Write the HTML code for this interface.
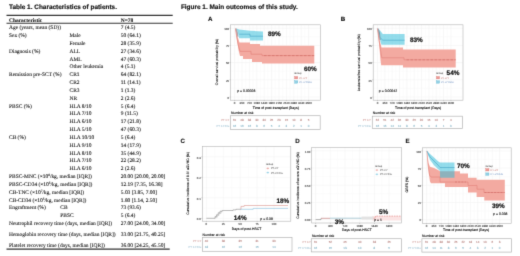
<!DOCTYPE html>
<html><head><meta charset="utf-8"><style>
html,body{margin:0;padding:0;background:#fff;}
body{width:520px;height:256px;overflow:hidden;font-family:"Liberation Sans",sans-serif;}
svg{display:block;will-change:transform;text-rendering:geometricPrecision;}
</style></head><body>
<svg width="520" height="256" viewBox="0 0 520 256">
<defs><filter id="bl" x="0" y="0" width="520" height="256" filterUnits="userSpaceOnUse" color-interpolation-filters="sRGB"><feConvolveMatrix order="3" kernelMatrix="0.01832 0.13534 0.01832 0.13534 1.00000 0.13534 0.01832 0.13534 0.01832" divisor="1.61460" edgeMode="duplicate"/></filter></defs>
<g filter="url(#bl)">
<rect width="520" height="256" fill="#fff"/>
<text x="9.0" y="8.8" font-size="6.45" font-family="Liberation Sans" font-weight="bold" text-anchor="start" fill="#111" stroke="#111" stroke-width="0.15">Table 1. Characteristics of patients.</text>
<line x1="6.5" y1="15.4" x2="172.7" y2="15.4" stroke="#333" stroke-width="1.1" />
<line x1="6.5" y1="23.3" x2="172.7" y2="23.3" stroke="#333" stroke-width="1.1" />
<line x1="6.5" y1="249.1" x2="169.7" y2="249.1" stroke="#333" stroke-width="1.1" />
<text x="9.0" y="21.65" font-size="5.45" font-family="Liberation Serif" font-weight="bold" text-anchor="start" fill="#111" stroke="#111" stroke-width="0.08">Characteristic</text>
<text x="120.8" y="21.65" font-size="5.45" font-family="Liberation Serif" font-weight="bold" text-anchor="start" fill="#111" stroke="#111" stroke-width="0.08">N=78</text>
<text x="9.0" y="29.15" font-size="5.45" font-family="Liberation Serif" font-weight="normal" text-anchor="start" fill="#111" stroke="#111" stroke-width="0.08">Age (years, mean (SD))</text>
<text x="120.8" y="29.15" font-size="5.45" font-family="Liberation Serif" font-weight="normal" text-anchor="start" fill="#111" stroke="#111" stroke-width="0.08">7 (4.5)</text>
<text x="9.0" y="36.989999999999995" font-size="5.45" font-family="Liberation Serif" font-weight="normal" text-anchor="start" fill="#111" stroke="#111" stroke-width="0.08">Sex (%)</text>
<text x="69.5" y="36.989999999999995" font-size="5.45" font-family="Liberation Serif" font-weight="normal" text-anchor="start" fill="#111" stroke="#111" stroke-width="0.08">Male</text>
<text x="120.8" y="36.989999999999995" font-size="5.45" font-family="Liberation Serif" font-weight="normal" text-anchor="start" fill="#111" stroke="#111" stroke-width="0.08">50 (64.1)</text>
<text x="69.5" y="44.83" font-size="5.45" font-family="Liberation Serif" font-weight="normal" text-anchor="start" fill="#111" stroke="#111" stroke-width="0.08">Female</text>
<text x="120.8" y="44.83" font-size="5.45" font-family="Liberation Serif" font-weight="normal" text-anchor="start" fill="#111" stroke="#111" stroke-width="0.08">28 (35.9)</text>
<text x="9.0" y="52.67" font-size="5.45" font-family="Liberation Serif" font-weight="normal" text-anchor="start" fill="#111" stroke="#111" stroke-width="0.08">Diagnosis (%)</text>
<text x="69.5" y="52.67" font-size="5.45" font-family="Liberation Serif" font-weight="normal" text-anchor="start" fill="#111" stroke="#111" stroke-width="0.08">ALL</text>
<text x="120.8" y="52.67" font-size="5.45" font-family="Liberation Serif" font-weight="normal" text-anchor="start" fill="#111" stroke="#111" stroke-width="0.08">27 (34.6)</text>
<text x="69.5" y="60.51" font-size="5.45" font-family="Liberation Serif" font-weight="normal" text-anchor="start" fill="#111" stroke="#111" stroke-width="0.08">AML</text>
<text x="120.8" y="60.51" font-size="5.45" font-family="Liberation Serif" font-weight="normal" text-anchor="start" fill="#111" stroke="#111" stroke-width="0.08">47 (60.3)</text>
<text x="69.5" y="68.35" font-size="5.45" font-family="Liberation Serif" font-weight="normal" text-anchor="start" fill="#111" stroke="#111" stroke-width="0.08">Other leukemia</text>
<text x="120.8" y="68.35" font-size="5.45" font-family="Liberation Serif" font-weight="normal" text-anchor="start" fill="#111" stroke="#111" stroke-width="0.08">4 (5.1)</text>
<text x="9.0" y="76.19" font-size="5.45" font-family="Liberation Serif" font-weight="normal" text-anchor="start" fill="#111" stroke="#111" stroke-width="0.08">Remission pre-SCT (%)</text>
<text x="69.5" y="76.19" font-size="5.45" font-family="Liberation Serif" font-weight="normal" text-anchor="start" fill="#111" stroke="#111" stroke-width="0.08">CR1</text>
<text x="120.8" y="76.19" font-size="5.45" font-family="Liberation Serif" font-weight="normal" text-anchor="start" fill="#111" stroke="#111" stroke-width="0.08">64 (82.1)</text>
<text x="69.5" y="84.03" font-size="5.45" font-family="Liberation Serif" font-weight="normal" text-anchor="start" fill="#111" stroke="#111" stroke-width="0.08">CR2</text>
<text x="120.8" y="84.03" font-size="5.45" font-family="Liberation Serif" font-weight="normal" text-anchor="start" fill="#111" stroke="#111" stroke-width="0.08">11 (14.1)</text>
<text x="69.5" y="91.87" font-size="5.45" font-family="Liberation Serif" font-weight="normal" text-anchor="start" fill="#111" stroke="#111" stroke-width="0.08">CR3</text>
<text x="120.8" y="91.87" font-size="5.45" font-family="Liberation Serif" font-weight="normal" text-anchor="start" fill="#111" stroke="#111" stroke-width="0.08">1 (1.3)</text>
<text x="69.5" y="99.71000000000001" font-size="5.45" font-family="Liberation Serif" font-weight="normal" text-anchor="start" fill="#111" stroke="#111" stroke-width="0.08">NR</text>
<text x="120.8" y="99.71000000000001" font-size="5.45" font-family="Liberation Serif" font-weight="normal" text-anchor="start" fill="#111" stroke="#111" stroke-width="0.08">2 (2.6)</text>
<text x="9.0" y="107.55000000000001" font-size="5.45" font-family="Liberation Serif" font-weight="normal" text-anchor="start" fill="#111" stroke="#111" stroke-width="0.08">PBSC (%)</text>
<text x="69.5" y="107.55000000000001" font-size="5.45" font-family="Liberation Serif" font-weight="normal" text-anchor="start" fill="#111" stroke="#111" stroke-width="0.08">HLA 8/10</text>
<text x="120.8" y="107.55000000000001" font-size="5.45" font-family="Liberation Serif" font-weight="normal" text-anchor="start" fill="#111" stroke="#111" stroke-width="0.08">5 (6.4)</text>
<text x="69.5" y="115.38999999999999" font-size="5.45" font-family="Liberation Serif" font-weight="normal" text-anchor="start" fill="#111" stroke="#111" stroke-width="0.08">HLA 7/10</text>
<text x="120.8" y="115.38999999999999" font-size="5.45" font-family="Liberation Serif" font-weight="normal" text-anchor="start" fill="#111" stroke="#111" stroke-width="0.08">9 (11.5)</text>
<text x="69.5" y="123.22999999999999" font-size="5.45" font-family="Liberation Serif" font-weight="normal" text-anchor="start" fill="#111" stroke="#111" stroke-width="0.08">HLA 6/10</text>
<text x="120.8" y="123.22999999999999" font-size="5.45" font-family="Liberation Serif" font-weight="normal" text-anchor="start" fill="#111" stroke="#111" stroke-width="0.08">17 (21.8)</text>
<text x="69.5" y="131.07" font-size="5.45" font-family="Liberation Serif" font-weight="normal" text-anchor="start" fill="#111" stroke="#111" stroke-width="0.08">HLA 5/10</text>
<text x="120.8" y="131.07" font-size="5.45" font-family="Liberation Serif" font-weight="normal" text-anchor="start" fill="#111" stroke="#111" stroke-width="0.08">47 (60.3)</text>
<text x="9.0" y="138.91" font-size="5.45" font-family="Liberation Serif" font-weight="normal" text-anchor="start" fill="#111" stroke="#111" stroke-width="0.08">CB (%)</text>
<text x="69.5" y="138.91" font-size="5.45" font-family="Liberation Serif" font-weight="normal" text-anchor="start" fill="#111" stroke="#111" stroke-width="0.08">HLA 10/10</text>
<text x="120.8" y="138.91" font-size="5.45" font-family="Liberation Serif" font-weight="normal" text-anchor="start" fill="#111" stroke="#111" stroke-width="0.08">5 (6.4)</text>
<text x="69.5" y="146.75" font-size="5.45" font-family="Liberation Serif" font-weight="normal" text-anchor="start" fill="#111" stroke="#111" stroke-width="0.08">HLA 9/10</text>
<text x="120.8" y="146.75" font-size="5.45" font-family="Liberation Serif" font-weight="normal" text-anchor="start" fill="#111" stroke="#111" stroke-width="0.08">14 (17.9)</text>
<text x="69.5" y="154.59" font-size="5.45" font-family="Liberation Serif" font-weight="normal" text-anchor="start" fill="#111" stroke="#111" stroke-width="0.08">HLA 8/10</text>
<text x="120.8" y="154.59" font-size="5.45" font-family="Liberation Serif" font-weight="normal" text-anchor="start" fill="#111" stroke="#111" stroke-width="0.08">35 (44.9)</text>
<text x="69.5" y="162.43" font-size="5.45" font-family="Liberation Serif" font-weight="normal" text-anchor="start" fill="#111" stroke="#111" stroke-width="0.08">HLA 7/10</text>
<text x="120.8" y="162.43" font-size="5.45" font-family="Liberation Serif" font-weight="normal" text-anchor="start" fill="#111" stroke="#111" stroke-width="0.08">22 (28.2)</text>
<text x="69.5" y="170.27" font-size="5.45" font-family="Liberation Serif" font-weight="normal" text-anchor="start" fill="#111" stroke="#111" stroke-width="0.08">HLA 6/10</text>
<text x="120.8" y="170.27" font-size="5.45" font-family="Liberation Serif" font-weight="normal" text-anchor="start" fill="#111" stroke="#111" stroke-width="0.08">2 (2.6)</text>
<text x="9.0" y="178.11" font-size="5.45" font-family="Liberation Serif" fill="#111" stroke="#111" stroke-width="0.08">PBSC-MNC (×10<tspan font-size="3.4" dy="-2">8</tspan><tspan dy="2">/kg, median [IQR])</tspan></text>
<text x="120.8" y="178.11" font-size="5.45" font-family="Liberation Serif" font-weight="normal" text-anchor="start" fill="#111" stroke="#111" stroke-width="0.08">20.00 [20.00, 20.00]</text>
<text x="9.0" y="185.95000000000002" font-size="5.45" font-family="Liberation Serif" fill="#111" stroke="#111" stroke-width="0.08">PBSC-CD34 (×10<tspan font-size="3.4" dy="-2">6</tspan><tspan dy="2">/kg, median [IQR])</tspan></text>
<text x="120.8" y="185.95000000000002" font-size="5.45" font-family="Liberation Serif" font-weight="normal" text-anchor="start" fill="#111" stroke="#111" stroke-width="0.08">12.19 [7.35, 16.38]</text>
<text x="9.0" y="193.79" font-size="5.45" font-family="Liberation Serif" fill="#111" stroke="#111" stroke-width="0.08">CB-TNC (×10<tspan font-size="3.4" dy="-2">7</tspan><tspan dy="2">/kg, median [IQR])</tspan></text>
<text x="120.8" y="193.79" font-size="5.45" font-family="Liberation Serif" font-weight="normal" text-anchor="start" fill="#111" stroke="#111" stroke-width="0.08">5.03 [3.85, 7.00]</text>
<text x="9.0" y="201.63" font-size="5.45" font-family="Liberation Serif" fill="#111" stroke="#111" stroke-width="0.08">CB-CD34 (×10<tspan font-size="3.4" dy="-2">5</tspan><tspan dy="2">/kg, median [IQR])</tspan></text>
<text x="120.8" y="201.63" font-size="5.45" font-family="Liberation Serif" font-weight="normal" text-anchor="start" fill="#111" stroke="#111" stroke-width="0.08">1.80 [1.14, 2.50]</text>
<text x="9.0" y="209.47" font-size="5.45" font-family="Liberation Serif" font-weight="normal" text-anchor="start" fill="#111" stroke="#111" stroke-width="0.08">Engraftment (%)</text>
<text x="60.3" y="209.47" font-size="5.45" font-family="Liberation Serif" font-weight="normal" text-anchor="start" fill="#111" stroke="#111" stroke-width="0.08">CB</text>
<text x="120.8" y="209.47" font-size="5.45" font-family="Liberation Serif" font-weight="normal" text-anchor="start" fill="#111" stroke="#111" stroke-width="0.08">73 (93.6)</text>
<text x="60.3" y="217.31" font-size="5.45" font-family="Liberation Serif" font-weight="normal" text-anchor="start" fill="#111" stroke="#111" stroke-width="0.08">PBSC</text>
<text x="120.8" y="217.31" font-size="5.45" font-family="Liberation Serif" font-weight="normal" text-anchor="start" fill="#111" stroke="#111" stroke-width="0.08">5 (6.4)</text>
<text x="9.0" y="225.15" font-size="5.45" font-family="Liberation Serif" font-weight="normal" text-anchor="start" fill="#111" stroke="#111" stroke-width="0.08">Neutrophil recovery time (days, median [IQR])</text>
<text x="120.8" y="225.15" font-size="5.45" font-family="Liberation Serif" font-weight="normal" text-anchor="start" fill="#111" stroke="#111" stroke-width="0.08">27.00 [24.00, 34.00]</text>
<text x="9.0" y="236.25" font-size="5.45" font-family="Liberation Serif" font-weight="normal" text-anchor="start" fill="#111" stroke="#111" stroke-width="0.08">Hemoglobin recovery time (days, median [IQR])</text>
<text x="120.8" y="236.25" font-size="5.45" font-family="Liberation Serif" font-weight="normal" text-anchor="start" fill="#111" stroke="#111" stroke-width="0.08">33.00 [21.75, 40.25]</text>
<text x="9.0" y="247.05" font-size="5.45" font-family="Liberation Serif" font-weight="normal" text-anchor="start" fill="#111" stroke="#111" stroke-width="0.08">Platelet recovery time (days, median [IQR])</text>
<text x="120.8" y="247.05" font-size="5.45" font-family="Liberation Serif" font-weight="normal" text-anchor="start" fill="#111" stroke="#111" stroke-width="0.08">36.00 [24.25, 45.50]</text>
<text x="180.9" y="8.6" font-size="6.45" font-family="Liberation Sans" font-weight="bold" text-anchor="start" fill="#111" stroke="#111" stroke-width="0.15">Figure 1. Main outcomes of this study.</text>
<text x="208" y="20.5" font-size="6.2" font-family="Liberation Sans" font-weight="bold" text-anchor="start" fill="#111" stroke="#111" stroke-width="0.1">A</text>
<rect x="230.5" y="24.8" width="90.10000000000002" height="75.4" fill="#fff" stroke="none" stroke-width="0.5" />
<line x1="230.5" y1="88.4" x2="320.6" y2="88.4" stroke="#f8f8f8" stroke-width="0.4" />
<line x1="230.5" y1="71.2" x2="320.6" y2="71.2" stroke="#f8f8f8" stroke-width="0.4" />
<line x1="230.5" y1="54.0" x2="320.6" y2="54.0" stroke="#f8f8f8" stroke-width="0.4" />
<line x1="230.5" y1="36.8" x2="320.6" y2="36.8" stroke="#f8f8f8" stroke-width="0.4" />
<line x1="238.3" y1="24.8" x2="238.3" y2="100.2" stroke="#f8f8f8" stroke-width="0.4" />
<line x1="245.7" y1="24.8" x2="245.7" y2="100.2" stroke="#f8f8f8" stroke-width="0.4" />
<line x1="253.10000000000002" y1="24.8" x2="253.10000000000002" y2="100.2" stroke="#f8f8f8" stroke-width="0.4" />
<line x1="260.5" y1="24.8" x2="260.5" y2="100.2" stroke="#f8f8f8" stroke-width="0.4" />
<line x1="267.9" y1="24.8" x2="267.9" y2="100.2" stroke="#f8f8f8" stroke-width="0.4" />
<line x1="275.3" y1="24.8" x2="275.3" y2="100.2" stroke="#f8f8f8" stroke-width="0.4" />
<line x1="282.7" y1="24.8" x2="282.7" y2="100.2" stroke="#f8f8f8" stroke-width="0.4" />
<line x1="290.1" y1="24.8" x2="290.1" y2="100.2" stroke="#f8f8f8" stroke-width="0.4" />
<line x1="297.5" y1="24.8" x2="297.5" y2="100.2" stroke="#f8f8f8" stroke-width="0.4" />
<line x1="304.9" y1="24.8" x2="304.9" y2="100.2" stroke="#f8f8f8" stroke-width="0.4" />
<line x1="230.5" y1="97.0" x2="320.6" y2="97.0" stroke="#f0f0f0" stroke-width="0.5" />
<line x1="230.5" y1="79.8" x2="320.6" y2="79.8" stroke="#f0f0f0" stroke-width="0.5" />
<line x1="230.5" y1="62.6" x2="320.6" y2="62.6" stroke="#f0f0f0" stroke-width="0.5" />
<line x1="230.5" y1="45.4" x2="320.6" y2="45.4" stroke="#f0f0f0" stroke-width="0.5" />
<line x1="230.5" y1="28.2" x2="320.6" y2="28.2" stroke="#f0f0f0" stroke-width="0.5" />
<line x1="234.6" y1="24.8" x2="234.6" y2="100.2" stroke="#f0f0f0" stroke-width="0.5" />
<line x1="242.0" y1="24.8" x2="242.0" y2="100.2" stroke="#f0f0f0" stroke-width="0.5" />
<line x1="249.4" y1="24.8" x2="249.4" y2="100.2" stroke="#f0f0f0" stroke-width="0.5" />
<line x1="256.8" y1="24.8" x2="256.8" y2="100.2" stroke="#f0f0f0" stroke-width="0.5" />
<line x1="264.2" y1="24.8" x2="264.2" y2="100.2" stroke="#f0f0f0" stroke-width="0.5" />
<line x1="271.6" y1="24.8" x2="271.6" y2="100.2" stroke="#f0f0f0" stroke-width="0.5" />
<line x1="279.0" y1="24.8" x2="279.0" y2="100.2" stroke="#f0f0f0" stroke-width="0.5" />
<line x1="286.4" y1="24.8" x2="286.4" y2="100.2" stroke="#f0f0f0" stroke-width="0.5" />
<line x1="293.8" y1="24.8" x2="293.8" y2="100.2" stroke="#f0f0f0" stroke-width="0.5" />
<line x1="301.2" y1="24.8" x2="301.2" y2="100.2" stroke="#f0f0f0" stroke-width="0.5" />
<line x1="308.6" y1="24.8" x2="308.6" y2="100.2" stroke="#f0f0f0" stroke-width="0.5" />
<rect x="230.5" y="24.8" width="90.10000000000002" height="75.4" fill="none" stroke="#b4b4b4" stroke-width="0.6" />
<text x="229.1" y="98.7" font-size="2.9" font-family="Liberation Sans" font-weight="normal" text-anchor="end" fill="#3a3a3a" stroke="#3a3a3a" stroke-width="0.08">0</text>
<line x1="229.4" y1="97.0" x2="230.5" y2="97.0" stroke="#999" stroke-width="0.4" />
<text x="229.1" y="81.5" font-size="2.9" font-family="Liberation Sans" font-weight="normal" text-anchor="end" fill="#3a3a3a" stroke="#3a3a3a" stroke-width="0.08">25</text>
<line x1="229.4" y1="79.8" x2="230.5" y2="79.8" stroke="#999" stroke-width="0.4" />
<text x="229.1" y="64.3" font-size="2.9" font-family="Liberation Sans" font-weight="normal" text-anchor="end" fill="#3a3a3a" stroke="#3a3a3a" stroke-width="0.08">50</text>
<line x1="229.4" y1="62.6" x2="230.5" y2="62.6" stroke="#999" stroke-width="0.4" />
<text x="229.1" y="47.1" font-size="2.9" font-family="Liberation Sans" font-weight="normal" text-anchor="end" fill="#3a3a3a" stroke="#3a3a3a" stroke-width="0.08">75</text>
<line x1="229.4" y1="45.4" x2="230.5" y2="45.4" stroke="#999" stroke-width="0.4" />
<text x="229.1" y="29.9" font-size="2.9" font-family="Liberation Sans" font-weight="normal" text-anchor="end" fill="#3a3a3a" stroke="#3a3a3a" stroke-width="0.08">100</text>
<line x1="229.4" y1="28.2" x2="230.5" y2="28.2" stroke="#999" stroke-width="0.4" />
<text x="234.6" y="103.8" font-size="2.9" font-family="Liberation Sans" font-weight="normal" text-anchor="middle" fill="#3a3a3a" stroke="#3a3a3a" stroke-width="0.08">0</text>
<line x1="234.6" y1="100.2" x2="234.6" y2="101.2" stroke="#999" stroke-width="0.4" />
<text x="242.0" y="103.8" font-size="2.9" font-family="Liberation Sans" font-weight="normal" text-anchor="middle" fill="#3a3a3a" stroke="#3a3a3a" stroke-width="0.08">360</text>
<line x1="242.0" y1="100.2" x2="242.0" y2="101.2" stroke="#999" stroke-width="0.4" />
<text x="249.4" y="103.8" font-size="2.9" font-family="Liberation Sans" font-weight="normal" text-anchor="middle" fill="#3a3a3a" stroke="#3a3a3a" stroke-width="0.08">720</text>
<line x1="249.4" y1="100.2" x2="249.4" y2="101.2" stroke="#999" stroke-width="0.4" />
<text x="256.8" y="103.8" font-size="2.9" font-family="Liberation Sans" font-weight="normal" text-anchor="middle" fill="#3a3a3a" stroke="#3a3a3a" stroke-width="0.08">1080</text>
<line x1="256.8" y1="100.2" x2="256.8" y2="101.2" stroke="#999" stroke-width="0.4" />
<text x="264.2" y="103.8" font-size="2.9" font-family="Liberation Sans" font-weight="normal" text-anchor="middle" fill="#3a3a3a" stroke="#3a3a3a" stroke-width="0.08">1440</text>
<line x1="264.2" y1="100.2" x2="264.2" y2="101.2" stroke="#999" stroke-width="0.4" />
<text x="271.6" y="103.8" font-size="2.9" font-family="Liberation Sans" font-weight="normal" text-anchor="middle" fill="#3a3a3a" stroke="#3a3a3a" stroke-width="0.08">1800</text>
<line x1="271.6" y1="100.2" x2="271.6" y2="101.2" stroke="#999" stroke-width="0.4" />
<text x="279.0" y="103.8" font-size="2.9" font-family="Liberation Sans" font-weight="normal" text-anchor="middle" fill="#3a3a3a" stroke="#3a3a3a" stroke-width="0.08">2160</text>
<line x1="279.0" y1="100.2" x2="279.0" y2="101.2" stroke="#999" stroke-width="0.4" />
<text x="286.4" y="103.8" font-size="2.9" font-family="Liberation Sans" font-weight="normal" text-anchor="middle" fill="#3a3a3a" stroke="#3a3a3a" stroke-width="0.08">2520</text>
<line x1="286.4" y1="100.2" x2="286.4" y2="101.2" stroke="#999" stroke-width="0.4" />
<text x="293.8" y="103.8" font-size="2.9" font-family="Liberation Sans" font-weight="normal" text-anchor="middle" fill="#3a3a3a" stroke="#3a3a3a" stroke-width="0.08">2880</text>
<line x1="293.8" y1="100.2" x2="293.8" y2="101.2" stroke="#999" stroke-width="0.4" />
<text x="301.2" y="103.8" font-size="2.9" font-family="Liberation Sans" font-weight="normal" text-anchor="middle" fill="#3a3a3a" stroke="#3a3a3a" stroke-width="0.08">3240</text>
<line x1="301.2" y1="100.2" x2="301.2" y2="101.2" stroke="#999" stroke-width="0.4" />
<text x="308.6" y="103.8" font-size="2.9" font-family="Liberation Sans" font-weight="normal" text-anchor="middle" fill="#3a3a3a" stroke="#3a3a3a" stroke-width="0.08">3600</text>
<line x1="308.6" y1="100.2" x2="308.6" y2="101.2" stroke="#999" stroke-width="0.4" />
<text x="275.8" y="108.9" font-size="3.45" font-family="Liberation Sans" font-weight="normal" text-anchor="middle" fill="#111" stroke="#111" stroke-width="0.12">Time of post-transplant (Days)</text>
<text x="0" y="0" font-size="3.45" font-family="Liberation Sans" text-anchor="middle" fill="#111" stroke="#111" stroke-width="0.12" transform="translate(218.2,62) rotate(-90)">Overall survival probability (%)</text>
<polygon points="235.40,28.60 236.50,33.00 238.00,38.00 239.50,42.50 250.00,42.50 250.00,44.00 260.00,44.00 260.00,45.80 314.30,45.80 314.30,63.50 262.00,63.50 262.00,62.00 252.00,62.00 252.00,59.00 243.00,59.00 243.00,56.00 240.00,56.00 238.50,50.00 237.00,40.00 235.40,28.60" fill="#f3aaa1" />
<polygon points="236.50,28.60 239.20,29.60 250.00,30.80 263.00,31.40 263.00,40.50 250.00,40.50 250.00,38.20 239.20,38.20 238.60,36.00 237.80,32.00" fill="rgba(40,185,215,0.5)" />
<polygon points="235.30,28.20 236.60,28.40 238.00,33.00 238.30,37.00 237.40,36.50 236.20,32.00" fill="rgba(100,100,115,0.55)" />
<polyline points="235.40,28.60 236.50,36.00 238.00,44.00 240.00,51.30 251.00,51.30 251.00,54.20 262.00,54.20 262.00,55.60 314.30,55.60" fill="none" stroke="#e07c75" stroke-width="0.6" />
<polyline points="239.20,34.20 250.00,34.20 250.00,36.20 263.00,36.20" fill="none" stroke="#3f9fc2" stroke-width="0.55" />
<polyline points="264.00,55.60 314.00,55.60" fill="none" stroke="#cd6a64" stroke-width="0.6" stroke-dasharray="2.5,1.5"/>
<text x="268" y="36.4" font-size="6.4" font-family="Liberation Sans" font-weight="bold" text-anchor="start" fill="#111" stroke="#111" stroke-width="0.18">89%</text>
<text x="304" y="70.5" font-size="6.4" font-family="Liberation Sans" font-weight="bold" text-anchor="start" fill="#111" stroke="#111" stroke-width="0.18">60%</text>
<text x="294.3" y="74.4" font-size="2.6" font-family="Liberation Sans" font-weight="normal" text-anchor="start" fill="#222" >Group</text>
<rect x="294.6" y="76.5" width="3.2" height="2.4" fill="#eb9a96" stroke="#d9706b" stroke-width="0.3" />
<rect x="294.6" y="80.8" width="3.2" height="2.4" fill="#92cfe3" stroke="#4aaed0" stroke-width="0.3" />
<text x="299.3" y="78.7" font-size="2.7" font-family="Liberation Sans" font-weight="normal" text-anchor="start" fill="#c06a66" >PT-CY</text>
<text x="299.3" y="83.0" font-size="2.7" font-family="Liberation Sans" font-weight="normal" text-anchor="start" fill="#6a8fc0" >PT-CY/Flu</text>
<text x="237.2" y="92.0" font-size="3.45" font-family="Liberation Sans" font-weight="normal" text-anchor="start" fill="#111" stroke="#111" stroke-width="0.12">p = 0.00028</text>
<text x="231" y="113.9" font-size="3.45" font-family="Liberation Sans" font-weight="normal" text-anchor="start" fill="#222" stroke="#222" stroke-width="0.12">Number at risk</text>
<rect x="230.6" y="115.7" width="89.6" height="13.899999999999991" fill="#fff" stroke="#b4b4b4" stroke-width="0.7" />
<text x="229.4" y="120.8" font-size="2.8" font-family="Liberation Sans" font-weight="normal" text-anchor="end" fill="#c98a86" >PT-CY</text>
<text x="229.4" y="127.0" font-size="2.8" font-family="Liberation Sans" font-weight="normal" text-anchor="end" fill="#8fb8cc" >PT-CY/Flu</text>
<text x="234.6" y="120.85" font-size="3.0" font-family="Liberation Sans" font-weight="normal" text-anchor="middle" fill="#b98580" stroke="#b98580" stroke-width="0.08">61</text>
<text x="234.6" y="127.05" font-size="3.0" font-family="Liberation Sans" font-weight="normal" text-anchor="middle" fill="#86b5c8" stroke="#86b5c8" stroke-width="0.08">16</text>
<text x="242.0" y="120.85" font-size="3.0" font-family="Liberation Sans" font-weight="normal" text-anchor="middle" fill="#b98580" stroke="#b98580" stroke-width="0.08">48</text>
<text x="242.0" y="127.05" font-size="3.0" font-family="Liberation Sans" font-weight="normal" text-anchor="middle" fill="#86b5c8" stroke="#86b5c8" stroke-width="0.08">16</text>
<text x="249.4" y="120.85" font-size="3.0" font-family="Liberation Sans" font-weight="normal" text-anchor="middle" fill="#b98580" stroke="#b98580" stroke-width="0.08">38</text>
<text x="249.4" y="127.05" font-size="3.0" font-family="Liberation Sans" font-weight="normal" text-anchor="middle" fill="#86b5c8" stroke="#86b5c8" stroke-width="0.08">16</text>
<text x="256.8" y="120.85" font-size="3.0" font-family="Liberation Sans" font-weight="normal" text-anchor="middle" fill="#b98580" stroke="#b98580" stroke-width="0.08">30</text>
<text x="256.8" y="127.05" font-size="3.0" font-family="Liberation Sans" font-weight="normal" text-anchor="middle" fill="#86b5c8" stroke="#86b5c8" stroke-width="0.08">9</text>
<text x="264.2" y="120.85" font-size="3.0" font-family="Liberation Sans" font-weight="normal" text-anchor="middle" fill="#b98580" stroke="#b98580" stroke-width="0.08">30</text>
<text x="264.2" y="127.05" font-size="3.0" font-family="Liberation Sans" font-weight="normal" text-anchor="middle" fill="#86b5c8" stroke="#86b5c8" stroke-width="0.08">6</text>
<text x="271.6" y="120.85" font-size="3.0" font-family="Liberation Sans" font-weight="normal" text-anchor="middle" fill="#b98580" stroke="#b98580" stroke-width="0.08">25</text>
<text x="271.6" y="127.05" font-size="3.0" font-family="Liberation Sans" font-weight="normal" text-anchor="middle" fill="#86b5c8" stroke="#86b5c8" stroke-width="0.08">5</text>
<text x="279.0" y="120.85" font-size="3.0" font-family="Liberation Sans" font-weight="normal" text-anchor="middle" fill="#b98580" stroke="#b98580" stroke-width="0.08">20</text>
<text x="279.0" y="127.05" font-size="3.0" font-family="Liberation Sans" font-weight="normal" text-anchor="middle" fill="#86b5c8" stroke="#86b5c8" stroke-width="0.08">4</text>
<text x="286.4" y="120.85" font-size="3.0" font-family="Liberation Sans" font-weight="normal" text-anchor="middle" fill="#b98580" stroke="#b98580" stroke-width="0.08">15</text>
<text x="286.4" y="127.05" font-size="3.0" font-family="Liberation Sans" font-weight="normal" text-anchor="middle" fill="#86b5c8" stroke="#86b5c8" stroke-width="0.08">3</text>
<text x="293.8" y="120.85" font-size="3.0" font-family="Liberation Sans" font-weight="normal" text-anchor="middle" fill="#b98580" stroke="#b98580" stroke-width="0.08">10</text>
<text x="293.8" y="127.05" font-size="3.0" font-family="Liberation Sans" font-weight="normal" text-anchor="middle" fill="#86b5c8" stroke="#86b5c8" stroke-width="0.08">2</text>
<text x="301.2" y="120.85" font-size="3.0" font-family="Liberation Sans" font-weight="normal" text-anchor="middle" fill="#b98580" stroke="#b98580" stroke-width="0.08">8</text>
<text x="301.2" y="127.05" font-size="3.0" font-family="Liberation Sans" font-weight="normal" text-anchor="middle" fill="#86b5c8" stroke="#86b5c8" stroke-width="0.08">1</text>
<text x="308.6" y="120.85" font-size="3.0" font-family="Liberation Sans" font-weight="normal" text-anchor="middle" fill="#b98580" stroke="#b98580" stroke-width="0.08">5</text>
<text x="308.6" y="127.05" font-size="3.0" font-family="Liberation Sans" font-weight="normal" text-anchor="middle" fill="#86b5c8" stroke="#86b5c8" stroke-width="0.08">0</text>
<text x="340.7" y="20.5" font-size="6.2" font-family="Liberation Sans" font-weight="bold" text-anchor="start" fill="#111" stroke="#111" stroke-width="0.1">B</text>
<rect x="373.2" y="24.8" width="89.80000000000001" height="75.4" fill="#fff" stroke="none" stroke-width="0.5" />
<line x1="373.2" y1="88.4" x2="463" y2="88.4" stroke="#f8f8f8" stroke-width="0.4" />
<line x1="373.2" y1="71.2" x2="463" y2="71.2" stroke="#f8f8f8" stroke-width="0.4" />
<line x1="373.2" y1="54.0" x2="463" y2="54.0" stroke="#f8f8f8" stroke-width="0.4" />
<line x1="373.2" y1="36.8" x2="463" y2="36.8" stroke="#f8f8f8" stroke-width="0.4" />
<line x1="381.16999999999996" y1="24.8" x2="381.16999999999996" y2="100.2" stroke="#f8f8f8" stroke-width="0.4" />
<line x1="388.51" y1="24.8" x2="388.51" y2="100.2" stroke="#f8f8f8" stroke-width="0.4" />
<line x1="395.85" y1="24.8" x2="395.85" y2="100.2" stroke="#f8f8f8" stroke-width="0.4" />
<line x1="403.19" y1="24.8" x2="403.19" y2="100.2" stroke="#f8f8f8" stroke-width="0.4" />
<line x1="410.53" y1="24.8" x2="410.53" y2="100.2" stroke="#f8f8f8" stroke-width="0.4" />
<line x1="417.87" y1="24.8" x2="417.87" y2="100.2" stroke="#f8f8f8" stroke-width="0.4" />
<line x1="425.21000000000004" y1="24.8" x2="425.21000000000004" y2="100.2" stroke="#f8f8f8" stroke-width="0.4" />
<line x1="432.55" y1="24.8" x2="432.55" y2="100.2" stroke="#f8f8f8" stroke-width="0.4" />
<line x1="439.89" y1="24.8" x2="439.89" y2="100.2" stroke="#f8f8f8" stroke-width="0.4" />
<line x1="447.23" y1="24.8" x2="447.23" y2="100.2" stroke="#f8f8f8" stroke-width="0.4" />
<line x1="373.2" y1="97.0" x2="463" y2="97.0" stroke="#f0f0f0" stroke-width="0.5" />
<line x1="373.2" y1="79.8" x2="463" y2="79.8" stroke="#f0f0f0" stroke-width="0.5" />
<line x1="373.2" y1="62.6" x2="463" y2="62.6" stroke="#f0f0f0" stroke-width="0.5" />
<line x1="373.2" y1="45.4" x2="463" y2="45.4" stroke="#f0f0f0" stroke-width="0.5" />
<line x1="373.2" y1="28.2" x2="463" y2="28.2" stroke="#f0f0f0" stroke-width="0.5" />
<line x1="377.5" y1="24.8" x2="377.5" y2="100.2" stroke="#f0f0f0" stroke-width="0.5" />
<line x1="384.84" y1="24.8" x2="384.84" y2="100.2" stroke="#f0f0f0" stroke-width="0.5" />
<line x1="392.18" y1="24.8" x2="392.18" y2="100.2" stroke="#f0f0f0" stroke-width="0.5" />
<line x1="399.52" y1="24.8" x2="399.52" y2="100.2" stroke="#f0f0f0" stroke-width="0.5" />
<line x1="406.86" y1="24.8" x2="406.86" y2="100.2" stroke="#f0f0f0" stroke-width="0.5" />
<line x1="414.2" y1="24.8" x2="414.2" y2="100.2" stroke="#f0f0f0" stroke-width="0.5" />
<line x1="421.54" y1="24.8" x2="421.54" y2="100.2" stroke="#f0f0f0" stroke-width="0.5" />
<line x1="428.88" y1="24.8" x2="428.88" y2="100.2" stroke="#f0f0f0" stroke-width="0.5" />
<line x1="436.22" y1="24.8" x2="436.22" y2="100.2" stroke="#f0f0f0" stroke-width="0.5" />
<line x1="443.56" y1="24.8" x2="443.56" y2="100.2" stroke="#f0f0f0" stroke-width="0.5" />
<line x1="450.9" y1="24.8" x2="450.9" y2="100.2" stroke="#f0f0f0" stroke-width="0.5" />
<rect x="373.2" y="24.8" width="89.80000000000001" height="75.4" fill="none" stroke="#b4b4b4" stroke-width="0.6" />
<text x="371.8" y="98.7" font-size="2.9" font-family="Liberation Sans" font-weight="normal" text-anchor="end" fill="#3a3a3a" stroke="#3a3a3a" stroke-width="0.08">0</text>
<line x1="372.09999999999997" y1="97.0" x2="373.2" y2="97.0" stroke="#999" stroke-width="0.4" />
<text x="371.8" y="81.5" font-size="2.9" font-family="Liberation Sans" font-weight="normal" text-anchor="end" fill="#3a3a3a" stroke="#3a3a3a" stroke-width="0.08">25</text>
<line x1="372.09999999999997" y1="79.8" x2="373.2" y2="79.8" stroke="#999" stroke-width="0.4" />
<text x="371.8" y="64.3" font-size="2.9" font-family="Liberation Sans" font-weight="normal" text-anchor="end" fill="#3a3a3a" stroke="#3a3a3a" stroke-width="0.08">50</text>
<line x1="372.09999999999997" y1="62.6" x2="373.2" y2="62.6" stroke="#999" stroke-width="0.4" />
<text x="371.8" y="47.1" font-size="2.9" font-family="Liberation Sans" font-weight="normal" text-anchor="end" fill="#3a3a3a" stroke="#3a3a3a" stroke-width="0.08">75</text>
<line x1="372.09999999999997" y1="45.4" x2="373.2" y2="45.4" stroke="#999" stroke-width="0.4" />
<text x="371.8" y="29.9" font-size="2.9" font-family="Liberation Sans" font-weight="normal" text-anchor="end" fill="#3a3a3a" stroke="#3a3a3a" stroke-width="0.08">100</text>
<line x1="372.09999999999997" y1="28.2" x2="373.2" y2="28.2" stroke="#999" stroke-width="0.4" />
<text x="377.5" y="103.8" font-size="2.9" font-family="Liberation Sans" font-weight="normal" text-anchor="middle" fill="#3a3a3a" stroke="#3a3a3a" stroke-width="0.08">0</text>
<line x1="377.5" y1="100.2" x2="377.5" y2="101.2" stroke="#999" stroke-width="0.4" />
<text x="384.84" y="103.8" font-size="2.9" font-family="Liberation Sans" font-weight="normal" text-anchor="middle" fill="#3a3a3a" stroke="#3a3a3a" stroke-width="0.08">360</text>
<line x1="384.84" y1="100.2" x2="384.84" y2="101.2" stroke="#999" stroke-width="0.4" />
<text x="392.18" y="103.8" font-size="2.9" font-family="Liberation Sans" font-weight="normal" text-anchor="middle" fill="#3a3a3a" stroke="#3a3a3a" stroke-width="0.08">720</text>
<line x1="392.18" y1="100.2" x2="392.18" y2="101.2" stroke="#999" stroke-width="0.4" />
<text x="399.52" y="103.8" font-size="2.9" font-family="Liberation Sans" font-weight="normal" text-anchor="middle" fill="#3a3a3a" stroke="#3a3a3a" stroke-width="0.08">1080</text>
<line x1="399.52" y1="100.2" x2="399.52" y2="101.2" stroke="#999" stroke-width="0.4" />
<text x="406.86" y="103.8" font-size="2.9" font-family="Liberation Sans" font-weight="normal" text-anchor="middle" fill="#3a3a3a" stroke="#3a3a3a" stroke-width="0.08">1440</text>
<line x1="406.86" y1="100.2" x2="406.86" y2="101.2" stroke="#999" stroke-width="0.4" />
<text x="414.2" y="103.8" font-size="2.9" font-family="Liberation Sans" font-weight="normal" text-anchor="middle" fill="#3a3a3a" stroke="#3a3a3a" stroke-width="0.08">1800</text>
<line x1="414.2" y1="100.2" x2="414.2" y2="101.2" stroke="#999" stroke-width="0.4" />
<text x="421.54" y="103.8" font-size="2.9" font-family="Liberation Sans" font-weight="normal" text-anchor="middle" fill="#3a3a3a" stroke="#3a3a3a" stroke-width="0.08">2160</text>
<line x1="421.54" y1="100.2" x2="421.54" y2="101.2" stroke="#999" stroke-width="0.4" />
<text x="428.88" y="103.8" font-size="2.9" font-family="Liberation Sans" font-weight="normal" text-anchor="middle" fill="#3a3a3a" stroke="#3a3a3a" stroke-width="0.08">2520</text>
<line x1="428.88" y1="100.2" x2="428.88" y2="101.2" stroke="#999" stroke-width="0.4" />
<text x="436.22" y="103.8" font-size="2.9" font-family="Liberation Sans" font-weight="normal" text-anchor="middle" fill="#3a3a3a" stroke="#3a3a3a" stroke-width="0.08">2880</text>
<line x1="436.22" y1="100.2" x2="436.22" y2="101.2" stroke="#999" stroke-width="0.4" />
<text x="443.56" y="103.8" font-size="2.9" font-family="Liberation Sans" font-weight="normal" text-anchor="middle" fill="#3a3a3a" stroke="#3a3a3a" stroke-width="0.08">3240</text>
<line x1="443.56" y1="100.2" x2="443.56" y2="101.2" stroke="#999" stroke-width="0.4" />
<text x="450.9" y="103.8" font-size="2.9" font-family="Liberation Sans" font-weight="normal" text-anchor="middle" fill="#3a3a3a" stroke="#3a3a3a" stroke-width="0.08">3600</text>
<line x1="450.9" y1="100.2" x2="450.9" y2="101.2" stroke="#999" stroke-width="0.4" />
<text x="418.1" y="108.7" font-size="3.45" font-family="Liberation Sans" font-weight="normal" text-anchor="middle" fill="#111" stroke="#111" stroke-width="0.12">Time of post-transplant (Days)</text>
<text x="0" y="0" font-size="3.45" font-family="Liberation Sans" text-anchor="middle" fill="#111" stroke="#111" stroke-width="0.12" transform="translate(359.59999999999997,62.7) rotate(-90)">Leukemia free survival probability (%)</text>
<polygon points="377.40,28.50 378.50,34.00 380.00,42.00 381.50,47.50 403.00,47.50 403.00,49.60 455.70,49.60 455.70,67.40 403.00,67.40 403.00,65.30 381.20,65.30 380.50,60.00 379.20,45.00" fill="#f3aaa1" />
<polygon points="378.20,28.60 380.00,30.50 382.80,33.90 404.60,33.90 404.60,44.80 381.50,44.80 380.50,42.00 379.50,36.00" fill="rgba(40,185,215,0.5)" />
<polygon points="377.30,28.20 378.60,28.40 380.00,33.00 380.60,40.00 379.60,40.00 378.20,33.00" fill="rgba(100,100,115,0.55)" />
<polyline points="377.40,28.50 379.00,40.00 380.50,50.00 381.80,57.80 404.00,57.80 404.00,59.80 455.70,59.80" fill="none" stroke="#e07c75" stroke-width="0.55" />
<polyline points="380.50,38.00 382.80,40.20 404.60,40.20" fill="none" stroke="#3f9fc2" stroke-width="0.55" />
<polyline points="406.50,59.80 455.50,59.80" fill="none" stroke="#cd6a64" stroke-width="0.6" stroke-dasharray="2.5,1.5"/>
<text x="410" y="42" font-size="6.4" font-family="Liberation Sans" font-weight="bold" text-anchor="start" fill="#111" stroke="#111" stroke-width="0.18">83%</text>
<text x="446.6" y="74.8" font-size="6.4" font-family="Liberation Sans" font-weight="bold" text-anchor="start" fill="#111" stroke="#111" stroke-width="0.18">54%</text>
<text x="436.1" y="74.4" font-size="2.6" font-family="Liberation Sans" font-weight="normal" text-anchor="start" fill="#222" >Group</text>
<rect x="436.40000000000003" y="76.5" width="3.2" height="2.4" fill="#eb9a96" stroke="#d9706b" stroke-width="0.3" />
<rect x="436.40000000000003" y="80.8" width="3.2" height="2.4" fill="#92cfe3" stroke="#4aaed0" stroke-width="0.3" />
<text x="441.1" y="78.7" font-size="2.7" font-family="Liberation Sans" font-weight="normal" text-anchor="start" fill="#c06a66" >PT-CY</text>
<text x="441.1" y="83.0" font-size="2.7" font-family="Liberation Sans" font-weight="normal" text-anchor="start" fill="#6a8fc0" >PT-CY/Flu</text>
<text x="378.8" y="91.8" font-size="3.45" font-family="Liberation Sans" font-weight="normal" text-anchor="start" fill="#111" stroke="#111" stroke-width="0.12">p = 0.00042</text>
<text x="372.8" y="114.0" font-size="3.45" font-family="Liberation Sans" font-weight="normal" text-anchor="start" fill="#222" stroke="#222" stroke-width="0.12">Number at risk</text>
<rect x="372.3" y="116.2" width="90.19999999999999" height="12.399999999999991" fill="#fff" stroke="#b4b4b4" stroke-width="0.7" />
<text x="370.9" y="120.7" font-size="2.8" font-family="Liberation Sans" font-weight="normal" text-anchor="end" fill="#c98a86" >PT-CY</text>
<text x="370.9" y="126.8" font-size="2.8" font-family="Liberation Sans" font-weight="normal" text-anchor="end" fill="#8fb8cc" >PT-CY/Flu</text>
<text x="377.5" y="120.75" font-size="3.0" font-family="Liberation Sans" font-weight="normal" text-anchor="middle" fill="#b98580" stroke="#b98580" stroke-width="0.08">62</text>
<text x="377.5" y="126.85" font-size="3.0" font-family="Liberation Sans" font-weight="normal" text-anchor="middle" fill="#86b5c8" stroke="#86b5c8" stroke-width="0.08">16</text>
<text x="384.84" y="120.75" font-size="3.0" font-family="Liberation Sans" font-weight="normal" text-anchor="middle" fill="#b98580" stroke="#b98580" stroke-width="0.08">51</text>
<text x="384.84" y="126.85" font-size="3.0" font-family="Liberation Sans" font-weight="normal" text-anchor="middle" fill="#86b5c8" stroke="#86b5c8" stroke-width="0.08">16</text>
<text x="392.18" y="120.75" font-size="3.0" font-family="Liberation Sans" font-weight="normal" text-anchor="middle" fill="#b98580" stroke="#b98580" stroke-width="0.08">42</text>
<text x="392.18" y="126.85" font-size="3.0" font-family="Liberation Sans" font-weight="normal" text-anchor="middle" fill="#86b5c8" stroke="#86b5c8" stroke-width="0.08">14</text>
<text x="399.52" y="120.75" font-size="3.0" font-family="Liberation Sans" font-weight="normal" text-anchor="middle" fill="#b98580" stroke="#b98580" stroke-width="0.08">35</text>
<text x="399.52" y="126.85" font-size="3.0" font-family="Liberation Sans" font-weight="normal" text-anchor="middle" fill="#86b5c8" stroke="#86b5c8" stroke-width="0.08">11</text>
<text x="406.86" y="120.75" font-size="3.0" font-family="Liberation Sans" font-weight="normal" text-anchor="middle" fill="#b98580" stroke="#b98580" stroke-width="0.08">30</text>
<text x="406.86" y="126.85" font-size="3.0" font-family="Liberation Sans" font-weight="normal" text-anchor="middle" fill="#86b5c8" stroke="#86b5c8" stroke-width="0.08">8</text>
<text x="414.2" y="120.75" font-size="3.0" font-family="Liberation Sans" font-weight="normal" text-anchor="middle" fill="#b98580" stroke="#b98580" stroke-width="0.08">25</text>
<text x="414.2" y="126.85" font-size="3.0" font-family="Liberation Sans" font-weight="normal" text-anchor="middle" fill="#86b5c8" stroke="#86b5c8" stroke-width="0.08">6</text>
<text x="421.54" y="120.75" font-size="3.0" font-family="Liberation Sans" font-weight="normal" text-anchor="middle" fill="#b98580" stroke="#b98580" stroke-width="0.08">20</text>
<text x="421.54" y="126.85" font-size="3.0" font-family="Liberation Sans" font-weight="normal" text-anchor="middle" fill="#86b5c8" stroke="#86b5c8" stroke-width="0.08">5</text>
<text x="428.88" y="120.75" font-size="3.0" font-family="Liberation Sans" font-weight="normal" text-anchor="middle" fill="#b98580" stroke="#b98580" stroke-width="0.08">15</text>
<text x="428.88" y="126.85" font-size="3.0" font-family="Liberation Sans" font-weight="normal" text-anchor="middle" fill="#86b5c8" stroke="#86b5c8" stroke-width="0.08">4</text>
<text x="436.22" y="120.75" font-size="3.0" font-family="Liberation Sans" font-weight="normal" text-anchor="middle" fill="#b98580" stroke="#b98580" stroke-width="0.08">10</text>
<text x="436.22" y="126.85" font-size="3.0" font-family="Liberation Sans" font-weight="normal" text-anchor="middle" fill="#86b5c8" stroke="#86b5c8" stroke-width="0.08">3</text>
<text x="443.56" y="120.75" font-size="3.0" font-family="Liberation Sans" font-weight="normal" text-anchor="middle" fill="#b98580" stroke="#b98580" stroke-width="0.08">7</text>
<text x="443.56" y="126.85" font-size="3.0" font-family="Liberation Sans" font-weight="normal" text-anchor="middle" fill="#86b5c8" stroke="#86b5c8" stroke-width="0.08">1</text>
<text x="450.9" y="120.75" font-size="3.0" font-family="Liberation Sans" font-weight="normal" text-anchor="middle" fill="#b98580" stroke="#b98580" stroke-width="0.08">4</text>
<text x="450.9" y="126.85" font-size="3.0" font-family="Liberation Sans" font-weight="normal" text-anchor="middle" fill="#86b5c8" stroke="#86b5c8" stroke-width="0.08">0</text>
<text x="180.6" y="142.8" font-size="6.2" font-family="Liberation Sans" font-weight="bold" text-anchor="start" fill="#111" stroke="#111" stroke-width="0.1">C</text>
<rect x="202.3" y="146.5" width="88.5" height="74.69999999999999" fill="#fff" stroke="none" stroke-width="0.5" />
<line x1="202.3" y1="208.05" x2="290.8" y2="208.05" stroke="#f8f8f8" stroke-width="0.4" />
<line x1="202.3" y1="187.55" x2="290.8" y2="187.55" stroke="#f8f8f8" stroke-width="0.4" />
<line x1="202.3" y1="167.05" x2="290.8" y2="167.05" stroke="#f8f8f8" stroke-width="0.4" />
<line x1="214.85000000000002" y1="146.5" x2="214.85000000000002" y2="221.2" stroke="#f8f8f8" stroke-width="0.4" />
<line x1="231.75" y1="146.5" x2="231.75" y2="221.2" stroke="#f8f8f8" stroke-width="0.4" />
<line x1="248.65" y1="146.5" x2="248.65" y2="221.2" stroke="#f8f8f8" stroke-width="0.4" />
<line x1="265.55" y1="146.5" x2="265.55" y2="221.2" stroke="#f8f8f8" stroke-width="0.4" />
<line x1="202.3" y1="218.3" x2="290.8" y2="218.3" stroke="#f0f0f0" stroke-width="0.5" />
<line x1="202.3" y1="197.8" x2="290.8" y2="197.8" stroke="#f0f0f0" stroke-width="0.5" />
<line x1="202.3" y1="177.3" x2="290.8" y2="177.3" stroke="#f0f0f0" stroke-width="0.5" />
<line x1="202.3" y1="156.8" x2="290.8" y2="156.8" stroke="#f0f0f0" stroke-width="0.5" />
<line x1="206.4" y1="146.5" x2="206.4" y2="221.2" stroke="#f0f0f0" stroke-width="0.5" />
<line x1="223.3" y1="146.5" x2="223.3" y2="221.2" stroke="#f0f0f0" stroke-width="0.5" />
<line x1="240.2" y1="146.5" x2="240.2" y2="221.2" stroke="#f0f0f0" stroke-width="0.5" />
<line x1="257.1" y1="146.5" x2="257.1" y2="221.2" stroke="#f0f0f0" stroke-width="0.5" />
<line x1="274.0" y1="146.5" x2="274.0" y2="221.2" stroke="#f0f0f0" stroke-width="0.5" />
<rect x="202.3" y="146.5" width="88.5" height="74.69999999999999" fill="none" stroke="#b4b4b4" stroke-width="0.6" />
<text x="200.9" y="220.0" font-size="2.9" font-family="Liberation Sans" font-weight="normal" text-anchor="end" fill="#3a3a3a" stroke="#3a3a3a" stroke-width="0.08">0.0</text>
<line x1="201.20000000000002" y1="218.3" x2="202.3" y2="218.3" stroke="#999" stroke-width="0.4" />
<text x="200.9" y="199.5" font-size="2.9" font-family="Liberation Sans" font-weight="normal" text-anchor="end" fill="#3a3a3a" stroke="#3a3a3a" stroke-width="0.08">0.1</text>
<line x1="201.20000000000002" y1="197.8" x2="202.3" y2="197.8" stroke="#999" stroke-width="0.4" />
<text x="200.9" y="179.0" font-size="2.9" font-family="Liberation Sans" font-weight="normal" text-anchor="end" fill="#3a3a3a" stroke="#3a3a3a" stroke-width="0.08">0.2</text>
<line x1="201.20000000000002" y1="177.3" x2="202.3" y2="177.3" stroke="#999" stroke-width="0.4" />
<text x="200.9" y="158.5" font-size="2.9" font-family="Liberation Sans" font-weight="normal" text-anchor="end" fill="#3a3a3a" stroke="#3a3a3a" stroke-width="0.08">0.3</text>
<line x1="201.20000000000002" y1="156.8" x2="202.3" y2="156.8" stroke="#999" stroke-width="0.4" />
<text x="206.4" y="224.79999999999998" font-size="2.9" font-family="Liberation Sans" font-weight="normal" text-anchor="middle" fill="#3a3a3a" stroke="#3a3a3a" stroke-width="0.08">0</text>
<line x1="206.4" y1="221.2" x2="206.4" y2="222.2" stroke="#999" stroke-width="0.4" />
<text x="223.3" y="224.79999999999998" font-size="2.9" font-family="Liberation Sans" font-weight="normal" text-anchor="middle" fill="#3a3a3a" stroke="#3a3a3a" stroke-width="0.08">25</text>
<line x1="223.3" y1="221.2" x2="223.3" y2="222.2" stroke="#999" stroke-width="0.4" />
<text x="240.2" y="224.79999999999998" font-size="2.9" font-family="Liberation Sans" font-weight="normal" text-anchor="middle" fill="#3a3a3a" stroke="#3a3a3a" stroke-width="0.08">50</text>
<line x1="240.2" y1="221.2" x2="240.2" y2="222.2" stroke="#999" stroke-width="0.4" />
<text x="257.1" y="224.79999999999998" font-size="2.9" font-family="Liberation Sans" font-weight="normal" text-anchor="middle" fill="#3a3a3a" stroke="#3a3a3a" stroke-width="0.08">75</text>
<line x1="257.1" y1="221.2" x2="257.1" y2="222.2" stroke="#999" stroke-width="0.4" />
<text x="274.0" y="224.79999999999998" font-size="2.9" font-family="Liberation Sans" font-weight="normal" text-anchor="middle" fill="#3a3a3a" stroke="#3a3a3a" stroke-width="0.08">100</text>
<line x1="274.0" y1="221.2" x2="274.0" y2="222.2" stroke="#999" stroke-width="0.4" />
<text x="246.5" y="230.0" font-size="3.45" font-family="Liberation Sans" font-weight="normal" text-anchor="middle" fill="#111" stroke="#111" stroke-width="0.12">Days of post-HSCT</text>
<text x="0" y="0" font-size="3.45" font-family="Liberation Sans" text-anchor="middle" fill="#111" stroke="#111" stroke-width="0.12" transform="translate(189.2,183.4) rotate(-90)">Cumulative incidence of II-IV aGVHD (%)</text>
<polyline points="240.00,209.30 241.00,209.30 241.00,206.40 244.20,206.40 244.20,205.50 288.00,205.50" fill="none" stroke="#d88a82" stroke-width="0.55" />
<polyline points="240.00,209.30 253.20,209.30 253.20,208.40 288.00,208.40" fill="none" stroke="#7db7d8" stroke-width="0.55" />
<polyline points="206.40,218.30 215.00,218.30 215.00,216.60 216.50,216.60 216.50,214.80 218.20,214.80 218.20,212.80 220.00,212.80 220.00,211.20 222.30,211.20 222.30,210.50 233.00,210.50 233.00,209.90 236.00,209.90 236.00,209.30 240.00,209.30" fill="none" stroke="#6a6a6a" stroke-width="0.45" />
<polyline points="215.60,218.30 215.60,217.20 217.30,217.20 217.30,215.40 219.00,215.40 219.00,213.40 221.00,213.40 221.00,211.60 222.30,211.60" fill="none" stroke="#999" stroke-width="0.4" />
<text x="276.4" y="202.8" font-size="6.4" font-family="Liberation Sans" font-weight="bold" text-anchor="start" fill="#111" stroke="#111" stroke-width="0.18">18%</text>
<text x="233.8" y="220.2" font-size="6.4" font-family="Liberation Sans" font-weight="bold" text-anchor="start" fill="#111" stroke="#111" stroke-width="0.18">14%</text>
<text x="265.9" y="165.0" font-size="2.6" font-family="Liberation Sans" font-weight="normal" text-anchor="start" fill="#222" >Group</text>
<line x1="266.5" y1="168.4" x2="269.09999999999997" y2="168.4" stroke="#e07a74" stroke-width="0.5" />
<line x1="267.79999999999995" y1="167.4" x2="267.79999999999995" y2="169.4" stroke="#e07a74" stroke-width="0.4" />
<line x1="266.5" y1="172.6" x2="269.09999999999997" y2="172.6" stroke="#5bb8d8" stroke-width="0.5" />
<line x1="267.79999999999995" y1="171.6" x2="267.79999999999995" y2="173.6" stroke="#5bb8d8" stroke-width="0.4" />
<text x="270.9" y="169.29999999999998" font-size="2.6" font-family="Liberation Sans" font-weight="normal" text-anchor="start" fill="#444" >PT-CY</text>
<text x="270.9" y="173.5" font-size="2.6" font-family="Liberation Sans" font-weight="normal" text-anchor="start" fill="#444" >PT-CY/Flu</text>
<text x="260.3" y="219.89999999999998" font-size="3.45" font-family="Liberation Sans" font-weight="normal" text-anchor="start" fill="#111" stroke="#111" stroke-width="0.12">p = 0.38</text>
<text x="202.5" y="235.6" font-size="3.45" font-family="Liberation Sans" font-weight="normal" text-anchor="start" fill="#222" stroke="#222" stroke-width="0.12">Number at risk</text>
<rect x="202.5" y="237.5" width="89.5" height="13.800000000000011" fill="#fff" stroke="#b4b4b4" stroke-width="0.7" />
<text x="201.3" y="242.0" font-size="2.8" font-family="Liberation Sans" font-weight="normal" text-anchor="end" fill="#c98a86" >PT-CY</text>
<text x="201.3" y="248.3" font-size="2.8" font-family="Liberation Sans" font-weight="normal" text-anchor="end" fill="#8fb8cc" >PT-CY/Flu</text>
<text x="206.4" y="242.05" font-size="3.0" font-family="Liberation Sans" font-weight="normal" text-anchor="middle" fill="#b98580" stroke="#b98580" stroke-width="0.08">40</text>
<text x="206.4" y="248.35000000000002" font-size="3.0" font-family="Liberation Sans" font-weight="normal" text-anchor="middle" fill="#86b5c8" stroke="#86b5c8" stroke-width="0.08">18</text>
<text x="223.3" y="242.05" font-size="3.0" font-family="Liberation Sans" font-weight="normal" text-anchor="middle" fill="#b98580" stroke="#b98580" stroke-width="0.08">38</text>
<text x="223.3" y="248.35000000000002" font-size="3.0" font-family="Liberation Sans" font-weight="normal" text-anchor="middle" fill="#86b5c8" stroke="#86b5c8" stroke-width="0.08">16</text>
<text x="240.2" y="242.05" font-size="3.0" font-family="Liberation Sans" font-weight="normal" text-anchor="middle" fill="#b98580" stroke="#b98580" stroke-width="0.08">35</text>
<text x="240.2" y="248.35000000000002" font-size="3.0" font-family="Liberation Sans" font-weight="normal" text-anchor="middle" fill="#86b5c8" stroke="#86b5c8" stroke-width="0.08">16</text>
<text x="257.1" y="242.05" font-size="3.0" font-family="Liberation Sans" font-weight="normal" text-anchor="middle" fill="#b98580" stroke="#b98580" stroke-width="0.08">31</text>
<text x="257.1" y="248.35000000000002" font-size="3.0" font-family="Liberation Sans" font-weight="normal" text-anchor="middle" fill="#86b5c8" stroke="#86b5c8" stroke-width="0.08">15</text>
<text x="274.0" y="242.05" font-size="3.0" font-family="Liberation Sans" font-weight="normal" text-anchor="middle" fill="#b98580" stroke="#b98580" stroke-width="0.08">30</text>
<text x="274.0" y="248.35000000000002" font-size="3.0" font-family="Liberation Sans" font-weight="normal" text-anchor="middle" fill="#86b5c8" stroke="#86b5c8" stroke-width="0.08">14</text>
<text x="295.2" y="142.8" font-size="6.2" font-family="Liberation Sans" font-weight="bold" text-anchor="start" fill="#111" stroke="#111" stroke-width="0.1">D</text>
<rect x="311.7" y="147.4" width="89.60000000000002" height="75.6" fill="#fff" stroke="none" stroke-width="0.5" />
<line x1="311.7" y1="211.0" x2="401.3" y2="211.0" stroke="#f8f8f8" stroke-width="0.4" />
<line x1="311.7" y1="193.8" x2="401.3" y2="193.8" stroke="#f8f8f8" stroke-width="0.4" />
<line x1="311.7" y1="176.6" x2="401.3" y2="176.6" stroke="#f8f8f8" stroke-width="0.4" />
<line x1="311.7" y1="159.4" x2="401.3" y2="159.4" stroke="#f8f8f8" stroke-width="0.4" />
<line x1="322.95000000000005" y1="147.4" x2="322.95000000000005" y2="223" stroke="#f8f8f8" stroke-width="0.4" />
<line x1="337.65" y1="147.4" x2="337.65" y2="223" stroke="#f8f8f8" stroke-width="0.4" />
<line x1="352.35" y1="147.4" x2="352.35" y2="223" stroke="#f8f8f8" stroke-width="0.4" />
<line x1="367.05000000000007" y1="147.4" x2="367.05000000000007" y2="223" stroke="#f8f8f8" stroke-width="0.4" />
<line x1="381.75" y1="147.4" x2="381.75" y2="223" stroke="#f8f8f8" stroke-width="0.4" />
<line x1="311.7" y1="219.6" x2="401.3" y2="219.6" stroke="#f0f0f0" stroke-width="0.5" />
<line x1="311.7" y1="202.4" x2="401.3" y2="202.4" stroke="#f0f0f0" stroke-width="0.5" />
<line x1="311.7" y1="185.2" x2="401.3" y2="185.2" stroke="#f0f0f0" stroke-width="0.5" />
<line x1="311.7" y1="168.0" x2="401.3" y2="168.0" stroke="#f0f0f0" stroke-width="0.5" />
<line x1="311.7" y1="150.8" x2="401.3" y2="150.8" stroke="#f0f0f0" stroke-width="0.5" />
<line x1="315.6" y1="147.4" x2="315.6" y2="223" stroke="#f0f0f0" stroke-width="0.5" />
<line x1="330.3" y1="147.4" x2="330.3" y2="223" stroke="#f0f0f0" stroke-width="0.5" />
<line x1="345.0" y1="147.4" x2="345.0" y2="223" stroke="#f0f0f0" stroke-width="0.5" />
<line x1="359.70000000000005" y1="147.4" x2="359.70000000000005" y2="223" stroke="#f0f0f0" stroke-width="0.5" />
<line x1="374.40000000000003" y1="147.4" x2="374.40000000000003" y2="223" stroke="#f0f0f0" stroke-width="0.5" />
<line x1="389.1" y1="147.4" x2="389.1" y2="223" stroke="#f0f0f0" stroke-width="0.5" />
<rect x="311.7" y="147.4" width="89.60000000000002" height="75.6" fill="none" stroke="#b4b4b4" stroke-width="0.6" />
<text x="310.3" y="221.29999999999998" font-size="2.9" font-family="Liberation Sans" font-weight="normal" text-anchor="end" fill="#3a3a3a" stroke="#3a3a3a" stroke-width="0.08">0.00</text>
<line x1="310.59999999999997" y1="219.6" x2="311.7" y2="219.6" stroke="#999" stroke-width="0.4" />
<text x="310.3" y="204.1" font-size="2.9" font-family="Liberation Sans" font-weight="normal" text-anchor="end" fill="#3a3a3a" stroke="#3a3a3a" stroke-width="0.08">0.25</text>
<line x1="310.59999999999997" y1="202.4" x2="311.7" y2="202.4" stroke="#999" stroke-width="0.4" />
<text x="310.3" y="186.89999999999998" font-size="2.9" font-family="Liberation Sans" font-weight="normal" text-anchor="end" fill="#3a3a3a" stroke="#3a3a3a" stroke-width="0.08">0.50</text>
<line x1="310.59999999999997" y1="185.2" x2="311.7" y2="185.2" stroke="#999" stroke-width="0.4" />
<text x="310.3" y="169.7" font-size="2.9" font-family="Liberation Sans" font-weight="normal" text-anchor="end" fill="#3a3a3a" stroke="#3a3a3a" stroke-width="0.08">0.75</text>
<line x1="310.59999999999997" y1="168.0" x2="311.7" y2="168.0" stroke="#999" stroke-width="0.4" />
<text x="310.3" y="152.5" font-size="2.9" font-family="Liberation Sans" font-weight="normal" text-anchor="end" fill="#3a3a3a" stroke="#3a3a3a" stroke-width="0.08">1.00</text>
<line x1="310.59999999999997" y1="150.8" x2="311.7" y2="150.8" stroke="#999" stroke-width="0.4" />
<text x="315.6" y="226.6" font-size="2.9" font-family="Liberation Sans" font-weight="normal" text-anchor="middle" fill="#3a3a3a" stroke="#3a3a3a" stroke-width="0.08">0</text>
<line x1="315.6" y1="223" x2="315.6" y2="224.0" stroke="#999" stroke-width="0.4" />
<text x="330.3" y="226.6" font-size="2.9" font-family="Liberation Sans" font-weight="normal" text-anchor="middle" fill="#3a3a3a" stroke="#3a3a3a" stroke-width="0.08">360</text>
<line x1="330.3" y1="223" x2="330.3" y2="224.0" stroke="#999" stroke-width="0.4" />
<text x="345.0" y="226.6" font-size="2.9" font-family="Liberation Sans" font-weight="normal" text-anchor="middle" fill="#3a3a3a" stroke="#3a3a3a" stroke-width="0.08">720</text>
<line x1="345.0" y1="223" x2="345.0" y2="224.0" stroke="#999" stroke-width="0.4" />
<text x="359.70000000000005" y="226.6" font-size="2.9" font-family="Liberation Sans" font-weight="normal" text-anchor="middle" fill="#3a3a3a" stroke="#3a3a3a" stroke-width="0.08">1080</text>
<line x1="359.70000000000005" y1="223" x2="359.70000000000005" y2="224.0" stroke="#999" stroke-width="0.4" />
<text x="374.40000000000003" y="226.6" font-size="2.9" font-family="Liberation Sans" font-weight="normal" text-anchor="middle" fill="#3a3a3a" stroke="#3a3a3a" stroke-width="0.08">1440</text>
<line x1="374.40000000000003" y1="223" x2="374.40000000000003" y2="224.0" stroke="#999" stroke-width="0.4" />
<text x="389.1" y="226.6" font-size="2.9" font-family="Liberation Sans" font-weight="normal" text-anchor="middle" fill="#3a3a3a" stroke="#3a3a3a" stroke-width="0.08">1800</text>
<line x1="389.1" y1="223" x2="389.1" y2="224.0" stroke="#999" stroke-width="0.4" />
<text x="356.8" y="231.0" font-size="3.45" font-family="Liberation Sans" font-weight="normal" text-anchor="middle" fill="#111" stroke="#111" stroke-width="0.12">Days of post-HSCT</text>
<text x="0" y="0" font-size="3.45" font-family="Liberation Sans" text-anchor="middle" fill="#111" stroke="#111" stroke-width="0.12" transform="translate(298.7,185.5) rotate(-90)">Cumulative incidence of severe cGVHD (%)</text>
<rect x="372" y="216.1" width="29" height="4.4" fill="#fbe4e4" stroke="none" stroke-width="0.5" />
<rect x="361.5" y="216.6" width="12" height="2.9" fill="#e2e2e2" stroke="none" stroke-width="0.5" />
<polyline points="321.00,218.30 330.00,218.30" fill="none" stroke="#b86a64" stroke-width="0.6" />
<polyline points="330.00,218.20 361.50,218.20" fill="none" stroke="#77aab8" stroke-width="0.6" />
<polyline points="373.50,218.20 375.40,218.20 375.40,216.10 401.00,216.10" fill="none" stroke="#e07a76" stroke-width="0.6" stroke-dasharray="1.6,0.9"/>
<polyline points="315.60,219.60 321.00,219.60 321.00,218.40" fill="none" stroke="#666" stroke-width="0.5" />
<text x="379" y="214.2" font-size="6.4" font-family="Liberation Sans" font-weight="bold" text-anchor="start" fill="#111" stroke="#111" stroke-width="0.18">5%</text>
<text x="334.8" y="223.5" font-size="6.4" font-family="Liberation Sans" font-weight="bold" text-anchor="start" fill="#111" stroke="#111" stroke-width="0.18">3%</text>
<text x="375" y="166.70000000000002" font-size="2.6" font-family="Liberation Sans" font-weight="normal" text-anchor="start" fill="#222" >Group</text>
<line x1="375.6" y1="170.10000000000002" x2="378.2" y2="170.10000000000002" stroke="#e07a74" stroke-width="0.5" />
<line x1="376.9" y1="169.10000000000002" x2="376.9" y2="171.10000000000002" stroke="#e07a74" stroke-width="0.4" />
<line x1="375.6" y1="174.3" x2="378.2" y2="174.3" stroke="#5bb8d8" stroke-width="0.5" />
<line x1="376.9" y1="173.3" x2="376.9" y2="175.3" stroke="#5bb8d8" stroke-width="0.4" />
<text x="380.0" y="171.0" font-size="2.6" font-family="Liberation Sans" font-weight="normal" text-anchor="start" fill="#444" >PT-CY</text>
<text x="380.0" y="175.20000000000002" font-size="2.6" font-family="Liberation Sans" font-weight="normal" text-anchor="start" fill="#444" >PT-CY/Flu</text>
<text x="374.2" y="221.2" font-size="3.45" font-family="Liberation Sans" font-weight="normal" text-anchor="start" fill="#111" stroke="#111" stroke-width="0.12">p = 1</text>
<text x="311.9" y="236.7" font-size="3.45" font-family="Liberation Sans" font-weight="normal" text-anchor="start" fill="#222" stroke="#222" stroke-width="0.12">Number at risk</text>
<rect x="311.3" y="238.7" width="90.19999999999999" height="13.200000000000017" fill="#fff" stroke="#b4b4b4" stroke-width="0.7" />
<text x="310.8" y="243.1" font-size="2.8" font-family="Liberation Sans" font-weight="normal" text-anchor="end" fill="#c98a86" >PT-CY</text>
<text x="310.8" y="249.2" font-size="2.8" font-family="Liberation Sans" font-weight="normal" text-anchor="end" fill="#8fb8cc" >PT-CY/Flu</text>
<text x="315.6" y="243.15" font-size="3.0" font-family="Liberation Sans" font-weight="normal" text-anchor="middle" fill="#b98580" stroke="#b98580" stroke-width="0.08">61</text>
<text x="315.6" y="249.25" font-size="3.0" font-family="Liberation Sans" font-weight="normal" text-anchor="middle" fill="#86b5c8" stroke="#86b5c8" stroke-width="0.08">16</text>
<text x="330.3" y="243.15" font-size="3.0" font-family="Liberation Sans" font-weight="normal" text-anchor="middle" fill="#b98580" stroke="#b98580" stroke-width="0.08">52</text>
<text x="330.3" y="249.25" font-size="3.0" font-family="Liberation Sans" font-weight="normal" text-anchor="middle" fill="#86b5c8" stroke="#86b5c8" stroke-width="0.08">15</text>
<text x="345.0" y="243.15" font-size="3.0" font-family="Liberation Sans" font-weight="normal" text-anchor="middle" fill="#b98580" stroke="#b98580" stroke-width="0.08">45</text>
<text x="345.0" y="249.25" font-size="3.0" font-family="Liberation Sans" font-weight="normal" text-anchor="middle" fill="#86b5c8" stroke="#86b5c8" stroke-width="0.08">13</text>
<text x="359.70000000000005" y="243.15" font-size="3.0" font-family="Liberation Sans" font-weight="normal" text-anchor="middle" fill="#b98580" stroke="#b98580" stroke-width="0.08">40</text>
<text x="359.70000000000005" y="249.25" font-size="3.0" font-family="Liberation Sans" font-weight="normal" text-anchor="middle" fill="#86b5c8" stroke="#86b5c8" stroke-width="0.08">10</text>
<text x="374.40000000000003" y="243.15" font-size="3.0" font-family="Liberation Sans" font-weight="normal" text-anchor="middle" fill="#b98580" stroke="#b98580" stroke-width="0.08">33</text>
<text x="374.40000000000003" y="249.25" font-size="3.0" font-family="Liberation Sans" font-weight="normal" text-anchor="middle" fill="#86b5c8" stroke="#86b5c8" stroke-width="0.08">8</text>
<text x="389.1" y="243.15" font-size="3.0" font-family="Liberation Sans" font-weight="normal" text-anchor="middle" fill="#b98580" stroke="#b98580" stroke-width="0.08">25</text>
<text x="389.1" y="249.25" font-size="3.0" font-family="Liberation Sans" font-weight="normal" text-anchor="middle" fill="#86b5c8" stroke="#86b5c8" stroke-width="0.08">5</text>
<text x="405.4" y="142.7" font-size="6.2" font-family="Liberation Sans" font-weight="bold" text-anchor="start" fill="#111" stroke="#111" stroke-width="0.1">E</text>
<rect x="422.4" y="147.8" width="88.80000000000001" height="75.69999999999999" fill="#fff" stroke="none" stroke-width="0.5" />
<line x1="422.4" y1="211.1" x2="511.2" y2="211.1" stroke="#f8f8f8" stroke-width="0.4" />
<line x1="422.4" y1="193.9" x2="511.2" y2="193.9" stroke="#f8f8f8" stroke-width="0.4" />
<line x1="422.4" y1="176.7" x2="511.2" y2="176.7" stroke="#f8f8f8" stroke-width="0.4" />
<line x1="422.4" y1="159.5" x2="511.2" y2="159.5" stroke="#f8f8f8" stroke-width="0.4" />
<line x1="430.25" y1="147.8" x2="430.25" y2="223.5" stroke="#f8f8f8" stroke-width="0.4" />
<line x1="437.55000000000007" y1="147.8" x2="437.55000000000007" y2="223.5" stroke="#f8f8f8" stroke-width="0.4" />
<line x1="444.85" y1="147.8" x2="444.85" y2="223.5" stroke="#f8f8f8" stroke-width="0.4" />
<line x1="452.15" y1="147.8" x2="452.15" y2="223.5" stroke="#f8f8f8" stroke-width="0.4" />
<line x1="459.45000000000005" y1="147.8" x2="459.45000000000005" y2="223.5" stroke="#f8f8f8" stroke-width="0.4" />
<line x1="466.75" y1="147.8" x2="466.75" y2="223.5" stroke="#f8f8f8" stroke-width="0.4" />
<line x1="474.05000000000007" y1="147.8" x2="474.05000000000007" y2="223.5" stroke="#f8f8f8" stroke-width="0.4" />
<line x1="481.35" y1="147.8" x2="481.35" y2="223.5" stroke="#f8f8f8" stroke-width="0.4" />
<line x1="488.65" y1="147.8" x2="488.65" y2="223.5" stroke="#f8f8f8" stroke-width="0.4" />
<line x1="495.95000000000005" y1="147.8" x2="495.95000000000005" y2="223.5" stroke="#f8f8f8" stroke-width="0.4" />
<line x1="422.4" y1="219.7" x2="511.2" y2="219.7" stroke="#f0f0f0" stroke-width="0.5" />
<line x1="422.4" y1="202.5" x2="511.2" y2="202.5" stroke="#f0f0f0" stroke-width="0.5" />
<line x1="422.4" y1="185.3" x2="511.2" y2="185.3" stroke="#f0f0f0" stroke-width="0.5" />
<line x1="422.4" y1="168.1" x2="511.2" y2="168.1" stroke="#f0f0f0" stroke-width="0.5" />
<line x1="422.4" y1="150.9" x2="511.2" y2="150.9" stroke="#f0f0f0" stroke-width="0.5" />
<line x1="426.6" y1="147.8" x2="426.6" y2="223.5" stroke="#f0f0f0" stroke-width="0.5" />
<line x1="433.90000000000003" y1="147.8" x2="433.90000000000003" y2="223.5" stroke="#f0f0f0" stroke-width="0.5" />
<line x1="441.20000000000005" y1="147.8" x2="441.20000000000005" y2="223.5" stroke="#f0f0f0" stroke-width="0.5" />
<line x1="448.5" y1="147.8" x2="448.5" y2="223.5" stroke="#f0f0f0" stroke-width="0.5" />
<line x1="455.8" y1="147.8" x2="455.8" y2="223.5" stroke="#f0f0f0" stroke-width="0.5" />
<line x1="463.1" y1="147.8" x2="463.1" y2="223.5" stroke="#f0f0f0" stroke-width="0.5" />
<line x1="470.40000000000003" y1="147.8" x2="470.40000000000003" y2="223.5" stroke="#f0f0f0" stroke-width="0.5" />
<line x1="477.70000000000005" y1="147.8" x2="477.70000000000005" y2="223.5" stroke="#f0f0f0" stroke-width="0.5" />
<line x1="485.0" y1="147.8" x2="485.0" y2="223.5" stroke="#f0f0f0" stroke-width="0.5" />
<line x1="492.3" y1="147.8" x2="492.3" y2="223.5" stroke="#f0f0f0" stroke-width="0.5" />
<line x1="499.6" y1="147.8" x2="499.6" y2="223.5" stroke="#f0f0f0" stroke-width="0.5" />
<rect x="422.4" y="147.8" width="88.80000000000001" height="75.69999999999999" fill="none" stroke="#b4b4b4" stroke-width="0.6" />
<text x="421.0" y="221.39999999999998" font-size="2.9" font-family="Liberation Sans" font-weight="normal" text-anchor="end" fill="#3a3a3a" stroke="#3a3a3a" stroke-width="0.08">0</text>
<line x1="421.29999999999995" y1="219.7" x2="422.4" y2="219.7" stroke="#999" stroke-width="0.4" />
<text x="421.0" y="204.2" font-size="2.9" font-family="Liberation Sans" font-weight="normal" text-anchor="end" fill="#3a3a3a" stroke="#3a3a3a" stroke-width="0.08">25</text>
<line x1="421.29999999999995" y1="202.5" x2="422.4" y2="202.5" stroke="#999" stroke-width="0.4" />
<text x="421.0" y="187.0" font-size="2.9" font-family="Liberation Sans" font-weight="normal" text-anchor="end" fill="#3a3a3a" stroke="#3a3a3a" stroke-width="0.08">50</text>
<line x1="421.29999999999995" y1="185.3" x2="422.4" y2="185.3" stroke="#999" stroke-width="0.4" />
<text x="421.0" y="169.79999999999998" font-size="2.9" font-family="Liberation Sans" font-weight="normal" text-anchor="end" fill="#3a3a3a" stroke="#3a3a3a" stroke-width="0.08">75</text>
<line x1="421.29999999999995" y1="168.1" x2="422.4" y2="168.1" stroke="#999" stroke-width="0.4" />
<text x="421.0" y="152.6" font-size="2.9" font-family="Liberation Sans" font-weight="normal" text-anchor="end" fill="#3a3a3a" stroke="#3a3a3a" stroke-width="0.08">100</text>
<line x1="421.29999999999995" y1="150.9" x2="422.4" y2="150.9" stroke="#999" stroke-width="0.4" />
<text x="426.6" y="227.1" font-size="2.9" font-family="Liberation Sans" font-weight="normal" text-anchor="middle" fill="#3a3a3a" stroke="#3a3a3a" stroke-width="0.08">0</text>
<line x1="426.6" y1="223.5" x2="426.6" y2="224.5" stroke="#999" stroke-width="0.4" />
<text x="433.90000000000003" y="227.1" font-size="2.9" font-family="Liberation Sans" font-weight="normal" text-anchor="middle" fill="#3a3a3a" stroke="#3a3a3a" stroke-width="0.08">360</text>
<line x1="433.90000000000003" y1="223.5" x2="433.90000000000003" y2="224.5" stroke="#999" stroke-width="0.4" />
<text x="441.20000000000005" y="227.1" font-size="2.9" font-family="Liberation Sans" font-weight="normal" text-anchor="middle" fill="#3a3a3a" stroke="#3a3a3a" stroke-width="0.08">720</text>
<line x1="441.20000000000005" y1="223.5" x2="441.20000000000005" y2="224.5" stroke="#999" stroke-width="0.4" />
<text x="448.5" y="227.1" font-size="2.9" font-family="Liberation Sans" font-weight="normal" text-anchor="middle" fill="#3a3a3a" stroke="#3a3a3a" stroke-width="0.08">1080</text>
<line x1="448.5" y1="223.5" x2="448.5" y2="224.5" stroke="#999" stroke-width="0.4" />
<text x="455.8" y="227.1" font-size="2.9" font-family="Liberation Sans" font-weight="normal" text-anchor="middle" fill="#3a3a3a" stroke="#3a3a3a" stroke-width="0.08">1440</text>
<line x1="455.8" y1="223.5" x2="455.8" y2="224.5" stroke="#999" stroke-width="0.4" />
<text x="463.1" y="227.1" font-size="2.9" font-family="Liberation Sans" font-weight="normal" text-anchor="middle" fill="#3a3a3a" stroke="#3a3a3a" stroke-width="0.08">1800</text>
<line x1="463.1" y1="223.5" x2="463.1" y2="224.5" stroke="#999" stroke-width="0.4" />
<text x="470.40000000000003" y="227.1" font-size="2.9" font-family="Liberation Sans" font-weight="normal" text-anchor="middle" fill="#3a3a3a" stroke="#3a3a3a" stroke-width="0.08">2160</text>
<line x1="470.40000000000003" y1="223.5" x2="470.40000000000003" y2="224.5" stroke="#999" stroke-width="0.4" />
<text x="477.70000000000005" y="227.1" font-size="2.9" font-family="Liberation Sans" font-weight="normal" text-anchor="middle" fill="#3a3a3a" stroke="#3a3a3a" stroke-width="0.08">2520</text>
<line x1="477.70000000000005" y1="223.5" x2="477.70000000000005" y2="224.5" stroke="#999" stroke-width="0.4" />
<text x="485.0" y="227.1" font-size="2.9" font-family="Liberation Sans" font-weight="normal" text-anchor="middle" fill="#3a3a3a" stroke="#3a3a3a" stroke-width="0.08">2880</text>
<line x1="485.0" y1="223.5" x2="485.0" y2="224.5" stroke="#999" stroke-width="0.4" />
<text x="492.3" y="227.1" font-size="2.9" font-family="Liberation Sans" font-weight="normal" text-anchor="middle" fill="#3a3a3a" stroke="#3a3a3a" stroke-width="0.08">3240</text>
<line x1="492.3" y1="223.5" x2="492.3" y2="224.5" stroke="#999" stroke-width="0.4" />
<text x="499.6" y="227.1" font-size="2.9" font-family="Liberation Sans" font-weight="normal" text-anchor="middle" fill="#3a3a3a" stroke="#3a3a3a" stroke-width="0.08">3600</text>
<line x1="499.6" y1="223.5" x2="499.6" y2="224.5" stroke="#999" stroke-width="0.4" />
<text x="466" y="230.7" font-size="3.45" font-family="Liberation Sans" font-weight="normal" text-anchor="middle" fill="#111" stroke="#111" stroke-width="0.12">Time of post-transplant (Days)</text>
<text x="0" y="0" font-size="3.45" font-family="Liberation Sans" text-anchor="middle" fill="#111" stroke="#111" stroke-width="0.12" transform="translate(408.0,184.5) rotate(-90)">GRFS (%)</text>
<polygon points="426.90,150.90 427.70,157.00 428.50,163.00 430.00,166.80 434.00,168.00 438.00,170.00 440.00,171.20 460.00,171.20 460.00,173.50 468.00,173.50 468.00,177.80 476.60,177.80 476.60,179.80 504.80,179.80 504.80,200.50 484.30,200.50 484.30,197.00 476.60,197.00 476.60,192.50 468.00,192.50 468.00,187.00 445.00,187.00 445.00,183.20 431.00,183.20 430.00,181.60 429.00,175.00 428.00,165.00" fill="#f3aaa1" />
<polygon points="426.90,150.90 430.00,154.00 434.00,157.40 438.00,161.30 440.00,162.40 454.50,162.40 454.50,177.70 440.00,177.70 440.00,171.00 438.00,169.00 434.00,165.20 430.00,159.70 428.00,155.00" fill="rgba(40,185,215,0.5)" />
<polyline points="426.90,150.90 428.00,165.00 429.50,175.00 431.00,177.00 440.00,177.00 440.00,182.00 468.00,182.00 468.00,185.60 477.00,185.40 477.00,189.20 484.00,189.20 484.00,192.50 504.80,192.50" fill="none" stroke="#e07c75" stroke-width="0.55" />
<polyline points="426.90,150.90 430.00,157.00 434.00,161.00 438.00,165.00 440.00,167.50 454.50,167.50" fill="none" stroke="#3f9fc2" stroke-width="0.55" />
<polyline points="455.00,182.00 466.00,182.00" fill="none" stroke="#cd6a64" stroke-width="0.6" stroke-dasharray="2,1.2"/>
<polyline points="484.50,192.50 504.50,192.50" fill="none" stroke="#cd6a64" stroke-width="0.6" stroke-dasharray="2,1.2"/>
<text x="457.0" y="167.9" font-size="6.4" font-family="Liberation Sans" font-weight="bold" text-anchor="start" fill="#111" stroke="#111" stroke-width="0.18">70%</text>
<text x="491.9" y="208.2" font-size="6.4" font-family="Liberation Sans" font-weight="bold" text-anchor="start" fill="#111" stroke="#111" stroke-width="0.18">39%</text>
<text x="485.5" y="166.5" font-size="2.6" font-family="Liberation Sans" font-weight="normal" text-anchor="start" fill="#222" >Group</text>
<rect x="485.8" y="168.6" width="3.2" height="2.4" fill="#eb9a96" stroke="#d9706b" stroke-width="0.3" />
<rect x="485.8" y="172.9" width="3.2" height="2.4" fill="#92cfe3" stroke="#4aaed0" stroke-width="0.3" />
<text x="490.5" y="170.79999999999998" font-size="2.7" font-family="Liberation Sans" font-weight="normal" text-anchor="start" fill="#c06a66" >PT-CY</text>
<text x="490.5" y="175.1" font-size="2.7" font-family="Liberation Sans" font-weight="normal" text-anchor="start" fill="#6a8fc0" >PT-CY/Flu</text>
<text x="493.1" y="214.5" font-size="3.45" font-family="Liberation Sans" font-weight="normal" text-anchor="start" fill="#111" stroke="#111" stroke-width="0.12">p = 0.038</text>
<text x="422.1" y="236.7" font-size="3.45" font-family="Liberation Sans" font-weight="normal" text-anchor="start" fill="#222" stroke="#222" stroke-width="0.12">Number at risk</text>
<rect x="421.9" y="238.7" width="89.60000000000002" height="13.400000000000006" fill="#fff" stroke="#b4b4b4" stroke-width="0.7" />
<text x="420.8" y="243.1" font-size="2.8" font-family="Liberation Sans" font-weight="normal" text-anchor="end" fill="#c98a86" >PT-CY</text>
<text x="420.8" y="249.2" font-size="2.8" font-family="Liberation Sans" font-weight="normal" text-anchor="end" fill="#8fb8cc" >PT-CY/Flu</text>
<text x="426.6" y="243.15" font-size="3.0" font-family="Liberation Sans" font-weight="normal" text-anchor="middle" fill="#b98580" stroke="#b98580" stroke-width="0.08">61</text>
<text x="426.6" y="249.25" font-size="3.0" font-family="Liberation Sans" font-weight="normal" text-anchor="middle" fill="#86b5c8" stroke="#86b5c8" stroke-width="0.08">16</text>
<text x="433.90000000000003" y="243.15" font-size="3.0" font-family="Liberation Sans" font-weight="normal" text-anchor="middle" fill="#b98580" stroke="#b98580" stroke-width="0.08">48</text>
<text x="433.90000000000003" y="249.25" font-size="3.0" font-family="Liberation Sans" font-weight="normal" text-anchor="middle" fill="#86b5c8" stroke="#86b5c8" stroke-width="0.08">14</text>
<text x="441.20000000000005" y="243.15" font-size="3.0" font-family="Liberation Sans" font-weight="normal" text-anchor="middle" fill="#b98580" stroke="#b98580" stroke-width="0.08">38</text>
<text x="441.20000000000005" y="249.25" font-size="3.0" font-family="Liberation Sans" font-weight="normal" text-anchor="middle" fill="#86b5c8" stroke="#86b5c8" stroke-width="0.08">11</text>
<text x="448.5" y="243.15" font-size="3.0" font-family="Liberation Sans" font-weight="normal" text-anchor="middle" fill="#b98580" stroke="#b98580" stroke-width="0.08">30</text>
<text x="448.5" y="249.25" font-size="3.0" font-family="Liberation Sans" font-weight="normal" text-anchor="middle" fill="#86b5c8" stroke="#86b5c8" stroke-width="0.08">8</text>
<text x="455.8" y="243.15" font-size="3.0" font-family="Liberation Sans" font-weight="normal" text-anchor="middle" fill="#b98580" stroke="#b98580" stroke-width="0.08">25</text>
<text x="455.8" y="249.25" font-size="3.0" font-family="Liberation Sans" font-weight="normal" text-anchor="middle" fill="#86b5c8" stroke="#86b5c8" stroke-width="0.08">6</text>
<text x="463.1" y="243.15" font-size="3.0" font-family="Liberation Sans" font-weight="normal" text-anchor="middle" fill="#b98580" stroke="#b98580" stroke-width="0.08">22</text>
<text x="463.1" y="249.25" font-size="3.0" font-family="Liberation Sans" font-weight="normal" text-anchor="middle" fill="#86b5c8" stroke="#86b5c8" stroke-width="0.08">5</text>
<text x="470.40000000000003" y="243.15" font-size="3.0" font-family="Liberation Sans" font-weight="normal" text-anchor="middle" fill="#b98580" stroke="#b98580" stroke-width="0.08">18</text>
<text x="470.40000000000003" y="249.25" font-size="3.0" font-family="Liberation Sans" font-weight="normal" text-anchor="middle" fill="#86b5c8" stroke="#86b5c8" stroke-width="0.08">4</text>
<text x="477.70000000000005" y="243.15" font-size="3.0" font-family="Liberation Sans" font-weight="normal" text-anchor="middle" fill="#b98580" stroke="#b98580" stroke-width="0.08">14</text>
<text x="477.70000000000005" y="249.25" font-size="3.0" font-family="Liberation Sans" font-weight="normal" text-anchor="middle" fill="#86b5c8" stroke="#86b5c8" stroke-width="0.08">3</text>
<text x="485.0" y="243.15" font-size="3.0" font-family="Liberation Sans" font-weight="normal" text-anchor="middle" fill="#b98580" stroke="#b98580" stroke-width="0.08">10</text>
<text x="485.0" y="249.25" font-size="3.0" font-family="Liberation Sans" font-weight="normal" text-anchor="middle" fill="#86b5c8" stroke="#86b5c8" stroke-width="0.08">2</text>
<text x="492.3" y="243.15" font-size="3.0" font-family="Liberation Sans" font-weight="normal" text-anchor="middle" fill="#b98580" stroke="#b98580" stroke-width="0.08">6</text>
<text x="492.3" y="249.25" font-size="3.0" font-family="Liberation Sans" font-weight="normal" text-anchor="middle" fill="#86b5c8" stroke="#86b5c8" stroke-width="0.08">1</text>
<text x="499.6" y="243.15" font-size="3.0" font-family="Liberation Sans" font-weight="normal" text-anchor="middle" fill="#b98580" stroke="#b98580" stroke-width="0.08">3</text>
<text x="499.6" y="249.25" font-size="3.0" font-family="Liberation Sans" font-weight="normal" text-anchor="middle" fill="#86b5c8" stroke="#86b5c8" stroke-width="0.08">0</text>
</g>
</svg>
</body></html>
